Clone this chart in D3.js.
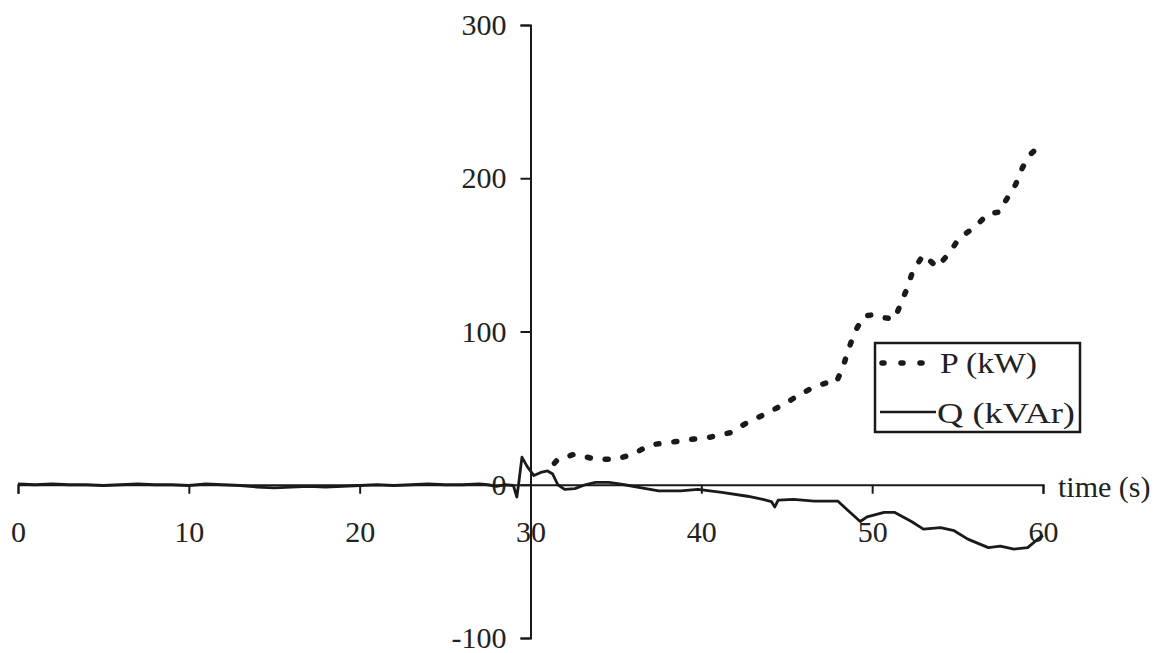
<!DOCTYPE html>
<html>
<head>
<meta charset="utf-8">
<script src="https://cdn.jsdelivr.net/npm/d3@7"></script>
<style>
  body { margin: 0; background: #fff; }
  text { font-family: "Liberation Serif", "DejaVu Serif", serif; fill: #222; }
</style>
</head>
<body>
<div id="vis"></div>
<script>
// data
var xTicks = [0, 10, 20, 30, 40, 50, 60];
var yTicks = [-100, 0, 100, 200, 300];

var qTime = [0, 1, 2, 3, 4, 5, 6, 7, 8, 9, 10, 11, 12, 13, 14, 15, 16, 17, 18, 19, 20, 21, 22, 23, 24, 25, 26, 27, 27.5, 28, 28.5, 29, 29.2, 29.3, 29.5, 29.8, 30.2, 30.6, 31, 31.3, 31.6, 32, 32.6, 33.2, 33.8, 34.6, 35.5, 36.5, 37.5, 38.8, 39.8, 41.2, 42.7, 43.6, 44.1, 44.3, 44.5, 45.4, 46.6, 48, 48.7, 49.3, 49.7, 50.7, 51.3, 52.3, 53, 54, 54.8, 55.6, 56.8, 57.5, 58.3, 59.1, 59.7, 60];
var qValue = [0.5, 0, 0.5, 0, 0, -0.5, 0, 0.5, 0, 0, -0.5, 0.5, 0, -0.5, -1.5, -2, -1.5, -1, -1.5, -1, -0.5, 0, -0.5, 0, 0.5, 0, 0, 0.5, 0, -1, 0, -0.5, -8, 0, 18, 12, 6, 8, 9, 7, 0, -3, -2.5, 0, 1.6, 1.6, 0, -2, -4, -4, -3, -5, -7.5, -9.5, -11, -14.5, -10, -9.5, -10.7, -10.7, -18, -24, -21, -18, -18, -24, -29, -28, -30, -35.5, -41, -40, -42, -41, -35.5, -33];

var pTime = [31.4, 31.6, 32.6, 33.8, 35, 36, 37, 38.4, 39.4, 40.5, 41.7, 42.7, 43.9, 44.8, 45.6, 46.6, 47.6, 47.9, 48.3, 48.6, 49, 49.5, 50.1, 50.7, 51.3, 51.6, 52, 52.4, 53, 53.8, 54.5, 55.1, 56, 56.8, 57.5, 57.8, 58.4, 58.8, 59.3, 59.7, 60];
var pValue = [14, 16.6, 20, 16.6, 16.6, 20, 26, 28, 29.6, 31, 34, 40.7, 47, 52.4, 57.7, 64, 67.4, 66.8, 77, 88, 100, 110, 111, 109, 108, 116, 127, 140, 150, 142, 151, 161, 168, 177, 178, 185, 196, 207, 216, 220, 218];

var legendLabels = ["P (kW)", "Q (kVAr)"];
var xTitle = "time (s)";

var w = 1159;
var h = 653;
var ink = "#1a1a1a";

var svg = d3.select("#vis")
.append("svg")
.attr("width", w)
.attr("height", h);

//scales
var x = d3.scaleLinear()
.domain([0, 60])
.range([18, 1043]);

var y = d3.scaleLinear()
.domain([-100, 300])
.range([638, 25]);

//axes
var xAxis = svg.append("g")
.attr("transform", `translate(0, ${y(0)})`)
.call(d3.axisBottom(x).tickValues(xTicks).tickSize(9).tickPadding(27).tickFormat(d => String(d)));

var yAxis = svg.append("g")
.attr("transform", `translate(${x(30)}, 0)`)
.call(d3.axisLeft(y).tickValues(yTicks).tickSize(10).tickPadding(14).tickFormat(d => String(d)));

[xAxis, yAxis].forEach(function (g) {
  g.attr("font-family", null).attr("font-size", null);
  g.selectAll("path, line").attr("stroke", ink).attr("stroke-width", 2);
  g.selectAll("text").attr("font-size", 30).attr("fill", "#222");
});

svg.append("text")
.attr("x", 1058)
.attr("y", y(0) + 12)
.attr("font-size", 30)
.text(xTitle);

//lines
var q = qTime.map((t, i) => ({t: t, v: qValue[i]}));
var p = pTime.map((t, i) => ({t: t, v: pValue[i]}));

var line = d3.line()
.x(d => x(d.t))
.y(d => y(d.v));

svg.append("path")
.datum(q)
.attr("d", line)
.attr("fill", "none")
.attr("stroke", ink)
.attr("stroke-width", 2.8)
.attr("stroke-linejoin", "round");

svg.append("path")
.datum(p)
.attr("d", line)
.attr("fill", "none")
.attr("stroke", ink)
.attr("stroke-width", 5.5)
.attr("stroke-linecap", "round")
.attr("stroke-dasharray", "3,15");

//legend
var legend = svg.append("g");

legend.append("rect")
.attr("x", 875)
.attr("y", 343)
.attr("width", 205)
.attr("height", 89)
.attr("fill", "#fff")
.attr("stroke", ink)
.attr("stroke-width", 2.5);

legend.append("line")
.attr("x1", 882).attr("x2", 928)
.attr("y1", 363).attr("y2", 363)
.attr("stroke", ink)
.attr("stroke-width", 5.5)
.attr("stroke-linecap", "round")
.attr("stroke-dasharray", "2,17");

legend.append("line")
.attr("x1", 880).attr("x2", 936)
.attr("y1", 412).attr("y2", 412)
.attr("stroke", ink)
.attr("stroke-width", 2.5);

legend.selectAll("text.lab")
.data(legendLabels)
.enter()
.append("text")
.attr("class", "lab")
.attr("x", (d, i) => i === 0 ? 940 : 937)
.attr("y", (d, i) => i === 0 ? 373 : 423)
.attr("font-size", 30)
.attr("textLength", (d, i) => i === 0 ? 97 : 138)
.attr("lengthAdjust", "spacingAndGlyphs")
.text(d => d);
</script>
</body>
</html>
